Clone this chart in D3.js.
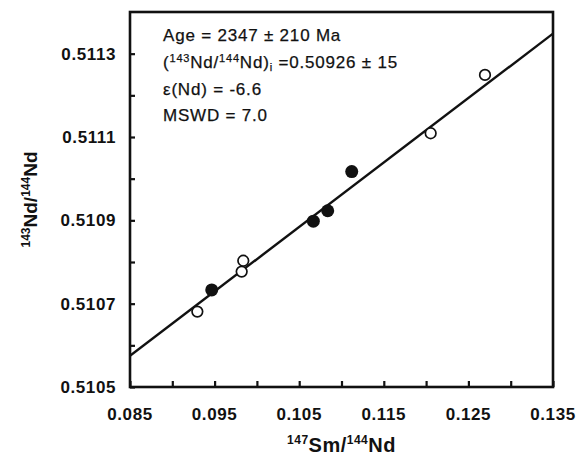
<!DOCTYPE html>
<html>
<head>
<meta charset="utf-8">
<script src="https://cdn.jsdelivr.net/npm/d3@7"></script>
<style>
  body { margin: 0; background: #fff; }
  text { font-family: "Liberation Sans", Arial, sans-serif; fill: #111; }
</style>
</head>
<body>
<svg id="chart" width="576" height="459"></svg>
<script>
// Whole-rock samples: open and filled symbols
const openX   = [0.09296, 0.09820, 0.09839, 0.12054, 0.12696];
const openY   = [0.510681, 0.510777, 0.510803, 0.511109, 0.511249];
const filledX = [0.09466, 0.10667, 0.10837, 0.11121];
const filledY = [0.510733, 0.510898, 0.510923, 0.511017];

// Axis ticks
const xMajorTicks = [0.085, 0.095, 0.105, 0.115, 0.125, 0.135];
const xMinorTicks = [0.09, 0.10, 0.11, 0.12, 0.13];
const yMajorTicks = [0.5105, 0.5107, 0.5109, 0.5111, 0.5113];
const yMinorTicks = [0.5106, 0.5108, 0.5110, 0.5112];
const xTickLabels = ["0.085", "0.095", "0.105", "0.115", "0.125", "0.135"];
const yTickLabels = ["0.5105", "0.5107", "0.5109", "0.5111", "0.5113"];

// Isochron parameters
const ageMa = 2347;
const initialRatio = 0.50926;
const lambdaSm = 6.54e-12; // 147Sm decay constant (1/yr)

const svg = d3.select("#chart");
const L = 130, R = 553, T = 12, B = 387;

const x = d3.scaleLinear().domain([0.085, 0.135]).range([L, R]);
const y = d3.scaleLinear().domain([0.5105, 0.5114]).range([B, T]);

// Axes with inward ticks
const xAxis = d3.axisTop(x).tickValues(xMajorTicks.concat(xMinorTicks)).tickSize(6).tickFormat("");
const yAxis = d3.axisRight(y).tickValues(yMajorTicks.concat(yMinorTicks)).tickSize(5).tickFormat("");

svg.append("g").attr("transform", `translate(0,${B})`).call(xAxis)
  .call(g => g.select(".domain").remove())
  .selectAll("line").attr("stroke", "#111").attr("stroke-width", 2.2);
svg.append("g").attr("transform", `translate(${L},0)`).call(yAxis)
  .call(g => g.select(".domain").remove())
  .selectAll("line").attr("stroke", "#111").attr("stroke-width", 2.2);

// Tick labels
svg.append("g").selectAll("text").data(xMajorTicks).join("text")
  .attr("x", d => x(d)).attr("y", 420)
  .attr("text-anchor", "middle")
  .attr("font-size", 17).attr("font-weight", "bold").attr("letter-spacing", 0.6)
  .text((d, i) => xTickLabels[i]);

svg.append("g").selectAll("text").data(yMajorTicks).join("text")
  .attr("x", 116).attr("y", d => y(d)).attr("dy", "0.36em")
  .attr("text-anchor", "end")
  .attr("font-size", 17).attr("font-weight", "bold").attr("letter-spacing", 0.6)
  .text((d, i) => yTickLabels[i]);

// Axis titles
const xt = svg.append("text").attr("x", (L + R) / 2).attr("y", 452)
  .attr("text-anchor", "middle").attr("font-size", 20).attr("font-weight", "bold")
  .attr("letter-spacing", 0.5);
xt.append("tspan").attr("font-size", 12).attr("dy", -8).text("147");
xt.append("tspan").attr("dy", 8).text("Sm/");
xt.append("tspan").attr("font-size", 12).attr("dy", -8).text("144");
xt.append("tspan").attr("dy", 8).text("Nd");

const yt = svg.append("text")
  .attr("transform", `translate(37,${(T + B) / 2}) rotate(-90)`)
  .attr("text-anchor", "middle").attr("font-size", 19).attr("font-weight", "bold");
yt.append("tspan").attr("font-size", 12).attr("dy", -7).text("143");
yt.append("tspan").attr("dy", 7).text("Nd/");
yt.append("tspan").attr("font-size", 12).attr("dy", -7).text("144");
yt.append("tspan").attr("dy", 7).text("Nd");

// Isochron line
const slope = Math.exp(lambdaSm * ageMa * 1e6) - 1;
const lineX = x.domain();
svg.append("clipPath").attr("id", "plotClip")
  .append("rect").attr("x", L).attr("y", T).attr("width", R - L).attr("height", B - T);
svg.append("line")
  .attr("clip-path", "url(#plotClip)")
  .attr("x1", x(lineX[0])).attr("y1", y(initialRatio + slope * lineX[0]))
  .attr("x2", x(lineX[1])).attr("y2", y(initialRatio + slope * lineX[1]))
  .attr("stroke", "#111").attr("stroke-width", 2.4);

// Samples
svg.append("g").selectAll("circle").data(openX).join("circle")
  .attr("cx", d => x(d)).attr("cy", (d, i) => y(openY[i])).attr("r", 5.3)
  .attr("fill", "#fff").attr("stroke", "#111").attr("stroke-width", 1.7);
svg.append("g").selectAll("circle").data(filledX).join("circle")
  .attr("cx", d => x(d)).attr("cy", (d, i) => y(filledY[i])).attr("r", 6.5)
  .attr("fill", "#111");

// Frame
svg.append("rect").attr("x", L).attr("y", T).attr("width", R - L).attr("height", B - T)
  .attr("fill", "none").attr("stroke", "#111").attr("stroke-width", 2.6);

// Isochron annotations
const ann = svg.append("g").attr("font-size", 17).attr("letter-spacing", 0.8)
  .attr("stroke", "#111").attr("stroke-width", 0.25);
const tx = 163;
ann.append("text").attr("x", tx).attr("y", 41).text("Age = 2347 ± 210 Ma");
const t2 = ann.append("text").attr("x", tx).attr("y", 68);
t2.append("tspan").text("(");
t2.append("tspan").attr("font-size", 11).attr("dy", -6).text("143");
t2.append("tspan").attr("dy", 6).text("Nd/");
t2.append("tspan").attr("font-size", 11).attr("dy", -6).text("144");
t2.append("tspan").attr("dy", 6).text("Nd)");
t2.append("tspan").attr("font-size", 11).attr("dy", 3).text("i");
t2.append("tspan").attr("dy", -3).text(" =0.50926 ± 15");
ann.append("text").attr("x", tx).attr("y", 95).text("ε(Nd) = -6.6");
ann.append("text").attr("x", tx).attr("y", 121).text("MSWD = 7.0");
</script>
</body>
</html>
